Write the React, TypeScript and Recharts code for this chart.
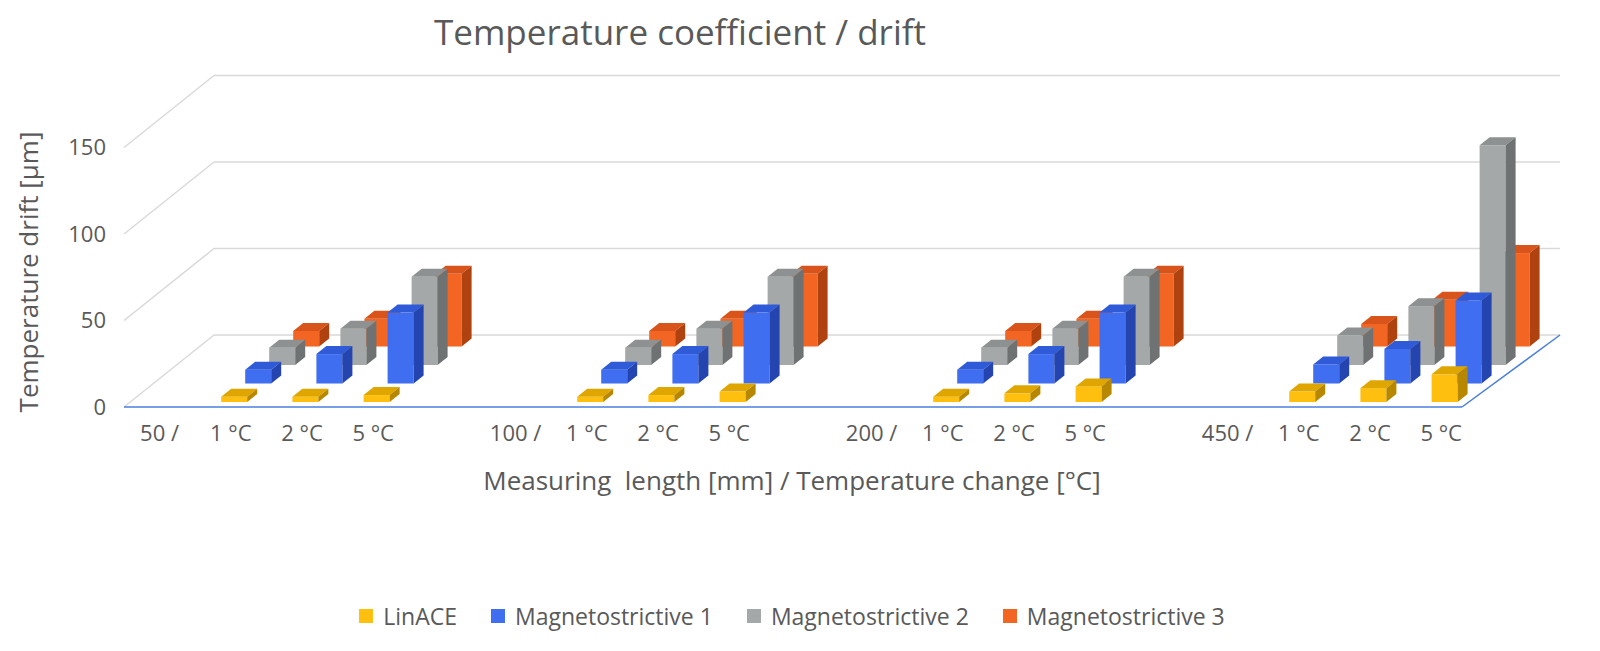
import { BarChart, Bar, XAxis, YAxis, CartesianGrid } from "recharts";

const slotLabels = [
  "50 /", "1 °C", "2 °C", "5 °C", "",
  "100 /", "1 °C", "2 °C", "5 °C", "",
  "200 /", "1 °C", "2 °C", "5 °C", "",
  "450 /", "1 °C", "2 °C", "5 °C", "",
];
const linace = [null, 3, 3, 4, null, null, 3, 4, 6, null, null, 3, 5, 9, null, null, 6, 8, 16, null];
const mag1 = [null, 8, 17, 41, null, null, 8, 17, 41, null, null, 8, 17, 41, null, null, 11, 20, 48, null];
const mag2 = [null, 10, 21, 51, null, null, 10, 21, 51, null, null, 10, 21, 51, null, null, 17, 34, 127, null];
const mag3 = [null, 9, 16, 42, null, null, 9, 16, 42, null, null, 9, 16, 42, null, null, 13, 27, 54, null];

const data = slotLabels.map((label, i) => ({
  label,
  linace: linace[i],
  mag1: mag1[i],
  mag2: mag2[i],
  mag3: mag3[i],
}));

const series = [
  { key: "mag3", name: "Magnetostrictive 3", color: "#f26522", top: "#d9541a", side: "#b0420f", depth: 3 },
  { key: "mag2", name: "Magnetostrictive 2", color: "#a5a8a8", top: "#8e9191", side: "#6e7272", depth: 2 },
  { key: "mag1", name: "Magnetostrictive 1", color: "#3f6ff0", top: "#2f5bd8", side: "#2445b0", depth: 1 },
  { key: "linace", name: "LinACE", color: "#ffbf0f", top: "#e0a600", side: "#b88700", depth: 0 },
];

const box = (s: (typeof series)[number]) => (props: any) => {
  const { x, y, width, height } = props;
  if (height == null || isNaN(height)) return <g />;
  const ox = x + 3 + s.depth * 24;
  const oy = y - 5 - s.depth * 18.5;
  const d = 10;
  const dv = 8;
  return (
    <g>
      <rect x={ox} y={oy} width={width} height={height} fill={s.color} />
      <polygon
        points={`${ox},${oy} ${ox + d},${oy - dv} ${ox + width + d},${oy - dv} ${ox + width},${oy}`}
        fill={s.top}
      />
      <polygon
        points={`${ox + width},${oy} ${ox + width + d},${oy - dv} ${ox + width + d},${oy + height - dv} ${ox + width},${oy + height}`}
        fill={s.side}
      />
    </g>
  );
};

const gridLine = (props: any) => {
  const { x1, y1 } = props;
  if (y1 < 100) return <g />;
  const isFloor = y1 > 380;
  return (
    <g>
      <line x1={x1} y1={y1} x2={x1 + 90} y2={y1 - 72} stroke="#d9d9d9" strokeWidth={1.5} />
      <line x1={x1 + 90} y1={y1 - 72} x2={x1 + 1436} y2={y1 - 72} stroke="#d9d9d9" strokeWidth={1.5} />
      {isFloor && (
        <>
          <line x1={x1} y1={y1} x2={x1 + 1338} y2={y1} stroke="#4a7fe0" strokeWidth={1.5} />
          <line x1={x1 + 1338} y1={y1} x2={x1 + 1436} y2={y1 - 72} stroke="#4a7fe0" strokeWidth={1.5} />
        </>
      )}
    </g>
  );
};

const legendOrder = [...series].reverse();

export default function App() {
  return (
    <div
      style={{
        position: "absolute",
        left: 0,
        top: 0,
        width: 1600,
        height: 651,
        background: "#fff",
        fontFamily: "'Open Sans', sans-serif",
        color: "#595959",
      }}
    >
      <div style={{ position: "absolute", top: 8, width: 1360, textAlign: "center", fontSize: 35 }}>
        Temperature coefficient / drift
      </div>
      <div
        style={{
          position: "absolute",
          left: 28,
          top: 272,
          transform: "translate(-50%, -50%) rotate(-90deg)",
          fontSize: 26,
          whiteSpace: "nowrap",
        }}
      >
        Temperature drift [µm]
      </div>
      <div style={{ position: "absolute", top: 462, left: 0, width: 1584, textAlign: "center", fontSize: 26 }}>
        Measuring&nbsp; length [mm] / Temperature change [°C]
      </div>
      <BarChart
        width={1600}
        height={651}
        data={data}
        margin={{ top: 61, right: 52, left: 0, bottom: 204 }}
        barSize={26}
        barGap={-26}
      >
        <CartesianGrid vertical={false} horizontal={gridLine} />
        <XAxis
          dataKey="label"
          axisLine={false}
          tickLine={false}
          height={40}
          interval={0}
          tick={{ fill: "#595959", fontSize: 22 }}
          dy={10}
        />
        <YAxis
          width={124}
          domain={[0, 200]}
          ticks={[0, 50, 100, 150]}
          axisLine={false}
          tickLine={false}
          tick={{ fill: "#595959", fontSize: 22 }}
          dx={-10}
        />
        {series.map((s) => (
          <Bar key={s.key} dataKey={s.key} fill={s.color} shape={box(s)} isAnimationActive={false} />
        ))}
      </BarChart>
      <div
        style={{
          position: "absolute",
          top: 600,
          left: 0,
          width: 1584,
          display: "flex",
          justifyContent: "center",
          gap: 34,
          fontSize: 23,
        }}
      >
        {legendOrder.map((s) => (
          <div key={s.key} style={{ display: "flex", alignItems: "center", gap: 10 }}>
            <span style={{ width: 14, height: 14, background: s.color, display: "inline-block" }} />
            {s.name}
          </div>
        ))}
      </div>
    </div>
  );
}
